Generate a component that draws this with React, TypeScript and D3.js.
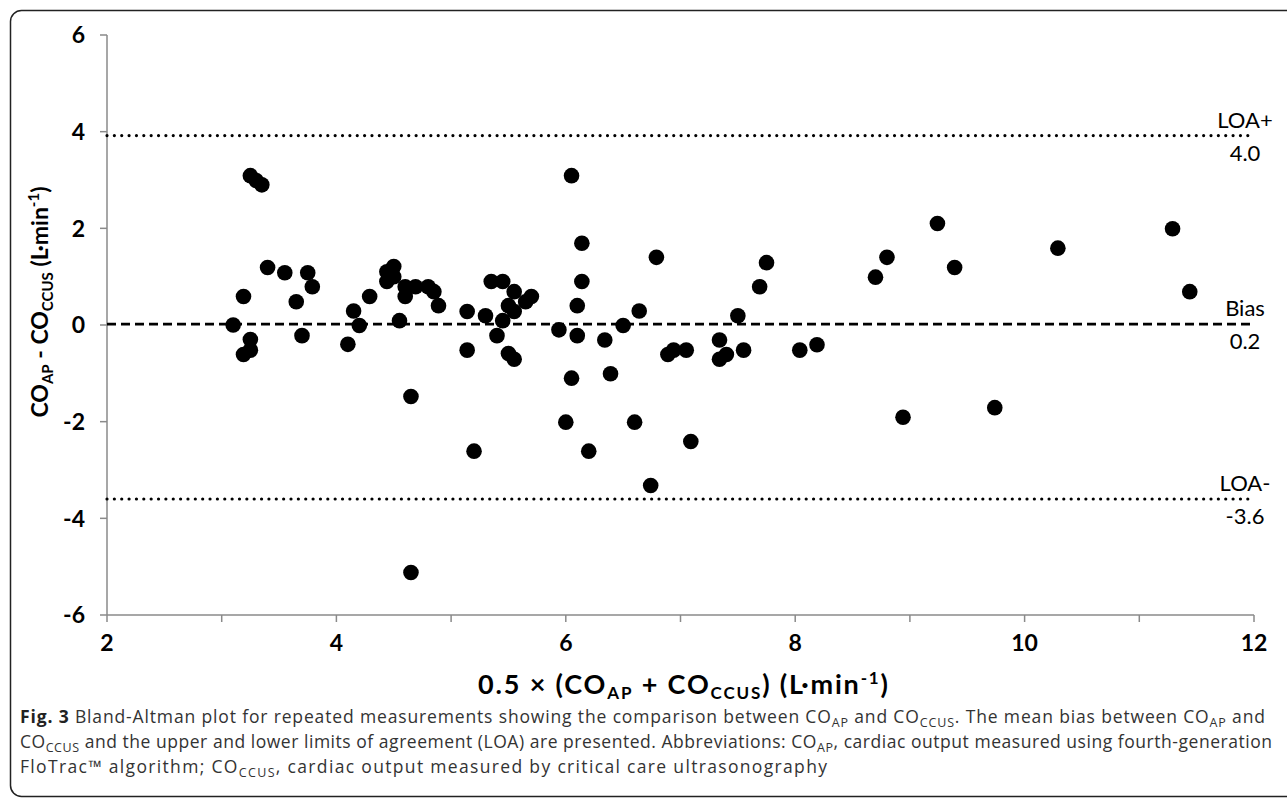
import React from "react";
import * as d3 from "d3";

const xValues = [
  3.10, 3.19, 3.19, 3.25, 3.25, 3.25, 3.30, 3.35, 3.40, 3.55, 3.65, 3.70, 3.75, 3.79,
  4.10, 4.15, 4.20, 4.29, 4.44, 4.44, 4.50, 4.50, 4.55, 4.60, 4.60, 4.65, 4.65, 4.69,
  4.80, 4.85, 4.89, 5.14, 5.14, 5.20, 5.30, 5.35, 5.40, 5.45, 5.45, 5.50, 5.50, 5.55,
  5.55, 5.55, 5.65, 5.70, 5.94, 6.00, 6.05, 6.05, 6.10, 6.10, 6.14, 6.14, 6.20, 6.34,
  6.39, 6.50, 6.60, 6.64, 6.74, 6.79, 6.89, 6.94, 7.05, 7.09, 7.34, 7.34, 7.40, 7.50,
  7.55, 7.69, 7.75, 8.04, 8.19, 8.70, 8.80, 8.94, 9.24, 9.39, 9.74, 10.29, 11.29, 11.44,
];
const yValues = [
  0.0, 0.59, -0.61, -0.52, -0.30, 3.09, 2.99, 2.90, 1.19, 1.08, 0.48, -0.22, 1.08, 0.79,
  -0.40, 0.29, -0.01, 0.59, 1.10, 0.90, 1.21, 1.00, 0.09, 0.79, 0.59, -1.48, -5.12, 0.79,
  0.79, 0.69, 0.40, 0.28, -0.52, -2.61, 0.19, 0.90, -0.22, 0.90, 0.09, 0.40, -0.59, -0.71,
  0.69, 0.28, 0.48, 0.59, -0.10, -2.01, 3.09, -1.10, 0.40, -0.22, 1.69, 0.90, -2.61, -0.31,
  -1.01, -0.01, -2.01, 0.29, -3.32, 1.40, -0.61, -0.52, -0.52, -2.41, -0.31, -0.71, -0.61, 0.19,
  -0.52, 0.79, 1.29, -0.52, -0.41, 0.99, 1.40, -1.91, 2.10, 1.19, -1.71, 1.59, 1.99, 0.69,
];

const xTicks = [2, 4, 6, 8, 10, 12];
const xMinorTicks = [2, 3, 4, 5, 6, 7, 8, 9, 10, 11, 12];
const yTicks = [-6, -4, -2, 0, 2, 4, 6];

const refLineValues = [3.92, 0.02, -3.6];
const refLineNames = ["LOA+", "Bias", "LOA-"];
const refLineLabels = ["4.0", "0.2", "-3.6"];
const refLineStyles = ["dot", "dash", "dot"];

const W = 1287;
const H = 801;

export default function App() {
  const x = d3.scaleLinear().domain([2, 12]).range([107, 1254]);
  const y = d3.scaleLinear().domain([-6, 6]).range([615, 35]);
  const axisColor = "#8a8a8a";
  const chartFont = "Lato, sans-serif";
  const capFont = "'Open Sans', sans-serif";
  const pts = xValues.map((v, i) => [v, yValues[i]]);
  const lineGen = d3.line<number[]>().x((d) => d[0]).y((d) => d[1]);

  return (
    <svg width={W} height={H} style={{ position: "absolute", left: 0, top: 0, background: "#fff" }}>
      <rect x={10.5} y={10.5} width={1300} height={786} rx={11} ry={11} fill="none" stroke="#222" strokeWidth={1.5} />

      {/* Y axis */}
      <path d={lineGen([[x(2), y(6)], [x(2), y(-6)]]) || ""} stroke={axisColor} strokeWidth={1.5} fill="none" />
      {yTicks.map((t) => (
        <g key={"yt" + t}>
          <line x1={x(2) - 7} x2={x(2)} y1={y(t)} y2={y(t)} stroke={axisColor} strokeWidth={1.5} />
          <text x={85} y={y(t)} dy="0.36em" textAnchor="end" fontFamily={chartFont} fontWeight={700} fontSize={23} fill="#000">
            {t}
          </text>
        </g>
      ))}

      {/* X axis */}
      <path d={lineGen([[x(2), y(-6)], [x(12), y(-6)]]) || ""} stroke={axisColor} strokeWidth={1.5} fill="none" />
      {xMinorTicks.map((t) => (
        <line key={"xm" + t} x1={x(t)} x2={x(t)} y1={y(-6)} y2={y(-6) + 7} stroke={axisColor} strokeWidth={1.5} />
      ))}
      {xTicks.map((t) => (
        <text key={"xt" + t} x={x(t)} y={651} textAnchor="middle" fontFamily={chartFont} fontWeight={700} fontSize={23} fill="#000">
          {t}
        </text>
      ))}

      {/* Reference lines */}
      {refLineValues.map((v, i) => (
        <g key={"ref" + i}>
          <line
            x1={x(2)}
            x2={1255}
            y1={y(v)}
            y2={y(v)}
            stroke="#000"
            strokeWidth={refLineStyles[i] === "dot" ? 3.2 : 2.8}
            strokeDasharray={refLineStyles[i] === "dot" ? "0.01 7.35" : "9 5"}
            strokeLinecap={refLineStyles[i] === "dot" ? "round" : "butt"}
          />
          <text x={1245} y={y(v) - 8} textAnchor="middle" fontFamily={chartFont} fontSize={22} fill="#000">
            {refLineNames[i]}
          </text>
          <text x={1245} y={y(v) + 25} textAnchor="middle" fontFamily={chartFont} fontSize={22} fill="#000">
            {refLineLabels[i]}
          </text>
        </g>
      ))}

      {/* Points */}
      {pts.map((p, i) => (
        <circle key={"p" + i} cx={x(p[0])} cy={y(p[1])} r={7.8} fill="#000" />
      ))}

      {/* Y axis title */}
      <text
        transform={`translate(48, ${302}) rotate(-90)`}
        textAnchor="middle"
        fontFamily={chartFont}
        fontWeight={700}
        fontSize={23}
        fill="#000"
      >
        CO<tspan fontSize={15} dy={5}>AP</tspan>
        <tspan dy={-5}> - CO</tspan>
        <tspan fontSize={15} dy={5}>CCUS</tspan>
        <tspan dy={-5}> (L·min</tspan>
        <tspan fontSize={15} dy={-9}>-1</tspan>
        <tspan dy={9}>)</tspan>
      </text>

      {/* X axis title */}
      <text x={478} y={694} textLength={410} lengthAdjust="spacing" fontFamily={chartFont} fontWeight={700} fontSize={27} fill="#000">
        0.5 × (CO<tspan fontSize={17} dy={5}>AP</tspan>
        <tspan dy={-5}> + CO</tspan>
        <tspan fontSize={17} dy={5}>CCUS</tspan>
        <tspan dy={-5}>) (L·min</tspan>
        <tspan fontSize={17} dy={-10}>-1</tspan>
        <tspan dy={10}>)</tspan>
      </text>

      {/* Caption */}
      <g fontFamily={capFont} fontSize={17.5} fill="#333">
        <text x={20} y={723} textLength={1245} lengthAdjust="spacing">
          <tspan fontWeight={700} fill="#222">Fig. 3</tspan> Bland-Altman plot for repeated measurements showing the comparison between CO
          <tspan fontSize={12.5} dy={4}>AP</tspan>
          <tspan dy={-4}> and CO</tspan>
          <tspan fontSize={12.5} dy={4}>CCUS</tspan>
          <tspan dy={-4}>. The mean bias between CO</tspan>
          <tspan fontSize={12.5} dy={4}>AP</tspan>
          <tspan dy={-4}> and</tspan>
        </text>
        <text x={20} y={748} textLength={1252} lengthAdjust="spacing">
          CO<tspan fontSize={12.5} dy={4}>CCUS</tspan>
          <tspan dy={-4}> and the upper and lower limits of agreement (LOA) are presented. Abbreviations: CO</tspan>
          <tspan fontSize={12.5} dy={4}>AP</tspan>
          <tspan dy={-4}>, cardiac output measured using fourth-generation</tspan>
        </text>
        <text x={20} y={773} textLength={807} lengthAdjust="spacing">
          FloTrac™ algorithm; CO<tspan fontSize={12.5} dy={4}>CCUS</tspan>
          <tspan dy={-4}>, cardiac output measured by critical care ultrasonography</tspan>
        </text>
      </g>
    </svg>
  );
}
